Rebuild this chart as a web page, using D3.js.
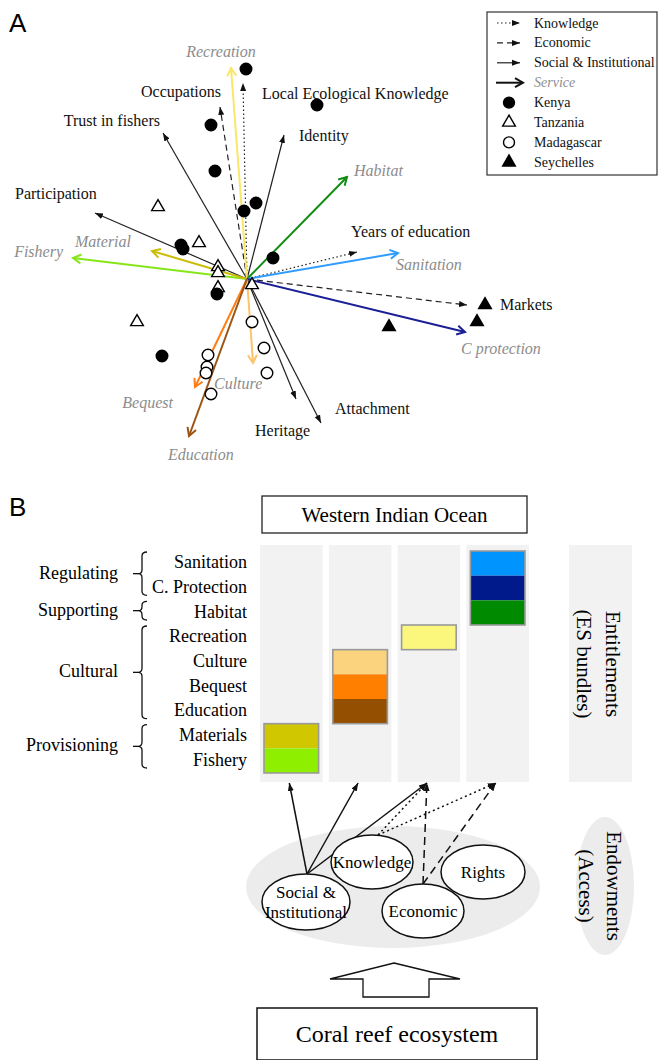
<html lang='en'>
<head>
<meta charset='UTF-8'>
<script src='https://cdn.jsdelivr.net/npm/d3@7'></script>
<style>
  body{margin:0;padding:0;background:white;}
  text{font-family:'Liberation Serif','Times New Roman',serif;}
</style>
</head>
<body>
<div id='fig'></div>
<script>
// ---------- panel A data (ordination scores) ----------
var serviceNames = ['Fishery','Material','Recreation','Habitat','Sanitation','C protection','Culture','Bequest','Education'];
var serviceX = [-1.74,-0.95,-0.16,1.00,1.51,2.18,0.06,-0.52,-0.58];
var serviceY = [0.21,0.28,2.11,1.02,0.26,-0.53,-0.84,-1.08,-1.57];

var endowNames = ['Local Ecological Knowledge','Years of education','Occupations','Markets','Trust in fishers','Identity','Participation','Attachment','Heritage'];
var endowType = ['Knowledge','Knowledge','Economic','Economic','Social & Institutional','Social & Institutional','Social & Institutional','Social & Institutional','Social & Institutional'];
var endowX = [-0.04,1.10,-0.27,2.20,-0.84,0.37,-1.52,0.74,0.49];
var endowY = [1.96,0.27,1.72,-0.26,1.46,1.44,0.66,-1.44,-1.20];

var countries = ['Kenya','Tanzania','Madagascar','Seychelles'];
var kenyaX = [-0.01,0.70,-0.36,-0.32,-0.03,0.09,-0.66,-0.64,0.26,-0.30,-0.85];
var kenyaY = [2.10,1.74,1.54,1.08,0.68,0.76,0.34,0.30,0.21,-0.15,-0.77];
var tanzaniaX = [-0.89,-0.48,-0.29,-0.29,-0.29,0.05,-1.10];
var tanzaniaY = [0.72,0.36,0.12,0.06,-0.09,-0.06,-0.43];
var madagascarX = [0.05,0.17,0.20,-0.39,-0.40,-0.41,-0.36];
var madagascarY = [-0.43,-0.69,-0.94,-0.76,-0.88,-0.94,-1.15];
var seychellesX = [2.38,2.30,1.42];
var seychellesY = [-0.26,-0.43,-0.48];

// ---------- panel B data ----------
var serviceRows = ['Sanitation','C. Protection','Habitat','Recreation','Culture','Bequest','Education','Materials','Fishery'];
var rowBundle = [3,3,3,2,1,1,1,0,0];
var groupNames = ['Regulating','Supporting','Cultural','Provisioning'];
var groupFirst = [0,2,3,7];
var groupLast = [1,2,6,8];
var endowNodes = ['Social & Institutional','Knowledge','Economic','Rights'];
var linkFrom = ['Social & Institutional','Social & Institutional','Social & Institutional','Knowledge','Knowledge','Economic','Economic'];
var linkTo = [0,1,2,2,3,2,3];

// ---------- styles ----------
var serviceColor = {
  'Fishery':'#86e619','Material':'#cbbd06','Recreation':'#f9e66a','Habitat':'#138c13',
  'Sanitation':'#2f9cff','C protection':'#1a1f96','Culture':'#fcc46c','Bequest':'#ff7d12','Education':'#9a5514'
};
var rowColor = ['#0094ff','#001a8c','#008a00','#fbf67c','#fbd27e','#ff7f00','#944f00','#d1c700','#8ef000'];
var dash = {'Knowledge':'1.5,2.5','Economic':'6,4','Social & Institutional':null};
var grayText = '#8c8c8c';

var svg = d3.select('#fig').append('svg').attr('width',660).attr('height',1060);
var defs = svg.append('defs');

defs.append('marker').attr('id','blackHead')
  .attr('viewBox','0 -4 8 8').attr('refX',8).attr('refY',0)
  .attr('markerUnits','userSpaceOnUse').attr('markerWidth',8).attr('markerHeight',8)
  .attr('orient','auto')
  .append('path').attr('d','M0,-3L8,0L0,3Z').attr('fill','#111');

function chevron(id, col){
  defs.append('marker').attr('id',id)
    .attr('viewBox','-1 -6 11 12').attr('refX',8).attr('refY',0)
    .attr('markerUnits','userSpaceOnUse').attr('markerWidth',11).attr('markerHeight',12)
    .attr('orient','auto')
    .append('path').attr('d','M0,-4.5L8,0L0,4.5').attr('fill','none')
    .attr('stroke',col).attr('stroke-width',2);
}
serviceNames.forEach(function(n,i){ chevron('sv'+i, serviceColor[n]); });
chevron('svBlack','#111');

// ================= panel A =================
var x = d3.scaleLinear().domain([-1,1]).range([147,347]);
var y = d3.scaleLinear().domain([-1,1]).range([379,179]);

svg.append('text').attr('x',9).attr('y',32).text('A')
  .style('font-family','Liberation Sans, Arial, sans-serif').attr('font-size',26);

var gA = svg.append('g');

// endowment arrows
endowNames.forEach(function(n,i){
  gA.append('line')
    .attr('x1',x(0)).attr('y1',y(0)).attr('x2',x(endowX[i])).attr('y2',y(endowY[i]))
    .attr('stroke','#222').attr('stroke-width',1.2)
    .attr('stroke-dasharray',dash[endowType[i]])
    .attr('marker-end','url(#blackHead)');
});

// service arrows
serviceNames.forEach(function(n,i){
  gA.append('line')
    .attr('x1',x(0)).attr('y1',y(0)).attr('x2',x(serviceX[i])).attr('y2',y(serviceY[i]))
    .attr('stroke',serviceColor[n]).attr('stroke-width',2)
    .attr('marker-end','url(#sv'+i+')');
});

// sites
function sites(xs, ys, shape, filled){
  xs.forEach(function(v,i){
    gA.append('path')
      .attr('transform','translate('+x(v)+','+y(ys[i])+')')
      .attr('d', d3.symbol().type(shape).size(shape===d3.symbolCircle ? 105 : 70)())
      .attr('fill', filled ? '#000' : '#fff')
      .attr('stroke','#000').attr('stroke-width',1.4);
  });
}
sites(tanzaniaX, tanzaniaY, d3.symbolTriangle, false);
sites(madagascarX, madagascarY, d3.symbolCircle, false);
sites(seychellesX, seychellesY, d3.symbolTriangle, true);
sites(kenyaX, kenyaY, d3.symbolCircle, true);

// labels (anchor, dx, dy from the arrow tip)
var serviceLab = [['end',-10,-7],['end',-21,-10],['middle',-10,-17],['start',7,-7],['start',-2,11],
                  ['start',-4,16],['start',-39,20],['end',-22,15],['start',-21,18]];
serviceNames.forEach(function(n,i){
  gA.append('text')
    .attr('x',x(serviceX[i])+serviceLab[i][1]).attr('y',y(serviceY[i])+serviceLab[i][2])
    .attr('text-anchor',serviceLab[i][0]).attr('dominant-baseline','central')
    .attr('font-size',16).attr('font-style','italic').attr('fill',grayText)
    .text(n);
});
var endowLab = [['start',19,10],['start',-6,-21],['end',1,-16],['start',33,-1],['end',-3,-13],
                ['start',15,0],['start',-80,-20],['start',14,-15],['start',-41,31]];
endowNames.forEach(function(n,i){
  gA.append('text')
    .attr('x',x(endowX[i])+endowLab[i][1]).attr('y',y(endowY[i])+endowLab[i][2])
    .attr('text-anchor',endowLab[i][0]).attr('dominant-baseline','central')
    .attr('font-size',16).attr('fill','#111')
    .text(n);
});

// legend
var lg = svg.append('g');
lg.append('rect').attr('x',487).attr('y',12).attr('width',170).attr('height',163)
  .attr('fill','#fff').attr('stroke','#333').attr('stroke-width',1.2);
var legendItems = ['Knowledge','Economic','Social & Institutional','Service'].concat(countries);
legendItems.forEach(function(n,i){
  var ly = 23 + i*19.9;
  if(i<3){
    lg.append('line').attr('x1',497).attr('x2',520).attr('y1',ly).attr('y2',ly)
      .attr('stroke','#222').attr('stroke-width',1.2).attr('stroke-dasharray',dash[n])
      .attr('marker-end','url(#blackHead)');
  } else if(i===3){
    lg.append('line').attr('x1',496).attr('x2',523).attr('y1',ly).attr('y2',ly)
      .attr('stroke','#111').attr('stroke-width',2).attr('marker-end','url(#svBlack)');
  } else {
    var shape = (n==='Kenya'||n==='Madagascar') ? d3.symbolCircle : d3.symbolTriangle;
    lg.append('path').attr('transform','translate(509,'+ly+')')
      .attr('d', d3.symbol().type(shape).size(shape===d3.symbolCircle ? 95 : 70)())
      .attr('fill', (n==='Kenya'||n==='Seychelles') ? '#000' : '#fff')
      .attr('stroke','#000').attr('stroke-width',1.4);
  }
  lg.append('text').attr('x',534).attr('y',ly).attr('dominant-baseline','central')
    .attr('font-size',14)
    .attr('font-style', n==='Service' ? 'italic' : null)
    .attr('fill', n==='Service' ? grayText : '#111')
    .text(n);
});

// ================= panel B =================
svg.append('text').attr('x',9).attr('y',516).text('B')
  .style('font-family','Liberation Sans, Arial, sans-serif').attr('font-size',26);

var gB = svg.append('g');
var col = d3.scaleBand().domain([0,1,2,3]).range([260,529]).paddingInner(0.09);
var row = d3.scaleBand().domain(serviceRows).range([551,773]);

// Western Indian Ocean box
gB.append('rect').attr('x',262).attr('y',496).attr('width',265).attr('height',37)
  .attr('fill','#fff').attr('stroke','#222').attr('stroke-width',1.3);
gB.append('text').attr('x',394.5).attr('y',515).attr('text-anchor','middle')
  .attr('dominant-baseline','central').attr('font-size',21).text('Western Indian Ocean');

// column backgrounds
col.domain().forEach(function(c){
  gB.append('rect').attr('x',col(c)).attr('y',545).attr('width',col.bandwidth()).attr('height',237)
    .attr('fill','#f2f2f2');
});
gB.append('rect').attr('x',569).attr('y',545).attr('width',63).attr('height',237).attr('fill','#f2f2f2');
gB.append('text').attr('transform','translate(613,664) rotate(90)').attr('text-anchor','middle')
  .attr('dominant-baseline','central').attr('font-size',21).text('Entitlements');
gB.append('text').attr('transform','translate(584,664) rotate(90)').attr('text-anchor','middle')
  .attr('dominant-baseline','central').attr('font-size',21).text('(ES bundles)');

// bundle cells
serviceRows.forEach(function(r,i){
  gB.append('rect').attr('x',col(rowBundle[i])+4).attr('y',row(r))
    .attr('width',col.bandwidth()-8).attr('height',row.bandwidth())
    .attr('fill',rowColor[i]);
});
col.domain().forEach(function(c){
  var rs = serviceRows.filter(function(r,i){ return rowBundle[i]===c; });
  var top = d3.min(rs, function(r){ return row(r); });
  var bot = d3.max(rs, function(r){ return row(r)+row.bandwidth(); });
  gB.append('rect').attr('x',col(c)+4).attr('y',top).attr('width',col.bandwidth()-8).attr('height',bot-top)
    .attr('fill','none').attr('stroke','#9a9a9a').attr('stroke-width',1.6);
});

// row labels
serviceRows.forEach(function(r){
  gB.append('text').attr('x',247).attr('y',row(r)+row.bandwidth()/2-1)
    .attr('text-anchor','end').attr('dominant-baseline','central').attr('font-size',18).text(r);
});

// braces and groups
groupNames.forEach(function(g,i){
  var y0 = row(serviceRows[groupFirst[i]])+1;
  var y1 = row(serviceRows[groupLast[i]])+row.bandwidth()-5;
  var m = (y0+y1)/2;
  var bx = 142;
  gB.append('path')
    .attr('d','M'+(bx+5)+','+y0+' Q'+bx+','+y0+' '+bx+','+(y0+4)+' L'+bx+','+(m-4)+
      ' Q'+bx+','+m+' '+(bx-4)+','+m+' Q'+bx+','+m+' '+bx+','+(m+4)+
      ' L'+bx+','+(y1-4)+' Q'+bx+','+y1+' '+(bx+5)+','+y1)
    .attr('fill','none').attr('stroke','#111').attr('stroke-width',1.3);
  gB.append('line').attr('x1',bx-9).attr('x2',bx-4).attr('y1',m).attr('y2',m)
    .attr('stroke','#111').attr('stroke-width',1.3);
  gB.append('text').attr('x',118).attr('y',m-1).attr('text-anchor','end')
    .attr('dominant-baseline','central').attr('font-size',18).text(g);
});

// endowments (access)
gB.append('ellipse').attr('cx',393).attr('cy',887).attr('rx',147).attr('ry',61).attr('fill','#ececec');
gB.append('ellipse').attr('cx',605).attr('cy',886).attr('rx',29).attr('ry',69).attr('fill','#ececec');
gB.append('text').attr('transform','translate(614,886) rotate(90)').attr('text-anchor','middle')
  .attr('dominant-baseline','central').attr('font-size',21).text('Endowments');
gB.append('text').attr('transform','translate(586,886) rotate(90)').attr('text-anchor','middle')
  .attr('dominant-baseline','central').attr('font-size',21).text('(Access)');

var nodePos = {
  'Social & Institutional':{cx:306,cy:902,rx:44,ry:28,sx:307,sy:874},
  'Knowledge':{cx:372,cy:862,rx:41,ry:27,sx:378,sy:835},
  'Economic':{cx:423,cy:911,rx:41,ry:27,sx:423,sy:884},
  'Rights':{cx:483,cy:872,rx:42,ry:27}
};
var linkDash = {'Social & Institutional':null,'Knowledge':'2,3','Economic':'8,5'};

linkFrom.forEach(function(f,i){
  var p = nodePos[f];
  gB.append('line').attr('x1',p.sx).attr('y1',p.sy)
    .attr('x2',col(linkTo[i])+col.bandwidth()/2-2).attr('y2',783)
    .attr('stroke','#111').attr('stroke-width',1.5)
    .attr('stroke-dasharray',linkDash[f])
    .attr('marker-end','url(#blackHead)');
});

endowNodes.forEach(function(n){
  var p = nodePos[n];
  gB.append('ellipse').attr('cx',p.cx).attr('cy',p.cy).attr('rx',p.rx).attr('ry',p.ry)
    .attr('fill','#fff').attr('stroke','#111').attr('stroke-width',1.5);
  var lines = n==='Social & Institutional' ? ['Social &','Institutional'] : [n];
  lines.forEach(function(t,j){
    gB.append('text').attr('x',p.cx).attr('y',p.cy+(j-(lines.length-1)/2)*20)
      .attr('text-anchor','middle').attr('dominant-baseline','central').attr('font-size',17).text(t);
  });
});

// hollow up arrow
gB.append('path')
  .attr('d','M394,963 L460,979 L429,979 L429,997 L363,997 L363,979 L330,979 Z')
  .attr('fill','#fff').attr('stroke','#111').attr('stroke-width',1.3);

// coral reef box
gB.append('rect').attr('x',257).attr('y',1008).attr('width',280).attr('height',52)
  .attr('fill','#fff').attr('stroke','#111').attr('stroke-width',1.5);
gB.append('text').attr('x',397).attr('y',1034).attr('text-anchor','middle')
  .attr('dominant-baseline','central').attr('font-size',24).text('Coral reef ecosystem');
</script>
</body>
</html>
